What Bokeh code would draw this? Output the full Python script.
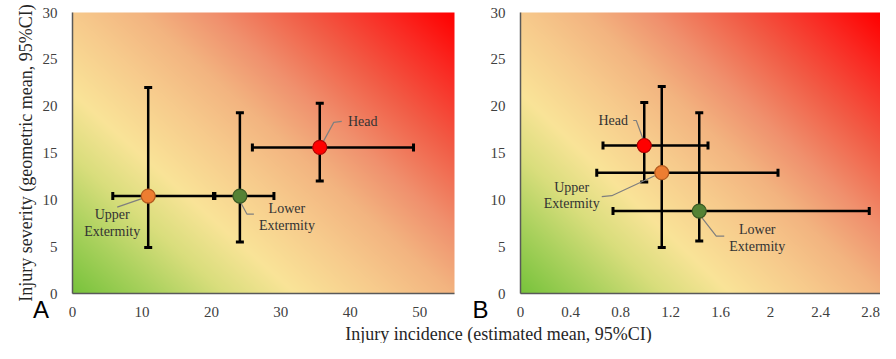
import numpy as np
from bokeh.plotting import figure
from bokeh.models import (Whisker, TeeHead, ColumnDataSource, Range1d, FixedTicker,
                          Label, LinearAxis)
from bokeh.layouts import row, column
from bokeh.embed import file_html
from bokeh.resources import INLINE
from bokeh.core.properties import value

# ---------------- data ----------------
regions = ["Head", "Upper\nExtermity", "Lower\nExtermity"]

# Panel A
a_inc = [35.6, 10.9, 24.1]
a_inc_lo = [25.9, 5.8, 20.5]
a_inc_hi = [49.1, 20.3, 29.0]
a_sev = [15.6, 10.4, 10.4]
a_sev_lo = [12.0, 4.9, 5.5]
a_sev_hi = [20.3, 22.0, 19.3]

# Panel B
b_inc = [0.99, 1.13, 1.43]
b_inc_lo = [0.66, 0.61, 0.74]
b_inc_hi = [1.50, 2.06, 2.79]
b_sev = [15.8, 12.9, 8.8]
b_sev_lo = [11.9, 4.9, 5.6]
b_sev_hi = [20.4, 22.1, 19.3]

y_max = 30
y_ticks = [0, 5, 10, 15, 20, 25, 30]
a_x_max = 55
a_x_ticks = [0, 10, 20, 30, 40, 50]
a_x_tick_labels = ["0", "10", "20", "30", "40", "50"]
b_x_max = 2.88
b_x_ticks = [0, 0.4, 0.8, 1.2, 1.6, 2.0, 2.4, 2.8]
b_x_tick_labels = ["0", "0.4", "0.8", "1.2", "1.6", "2", "2.4", "2.8"]

y_title = "Injury severity (geometric mean, 95%CI)"
x_title = "Injury incidence (estimated mean, 95%CI)"

# ---------------- style / layout (pixels) ----------------
SERIF = "Liberation Serif"
SANS = "Liberation Sans"
fill_colors = ["#ff0000", "#ed7d31", "#548235"]
edge_colors = ["#b00000", "#b35a1e", "#3a5a24"]

TOP_PX = 12       # space above the plotting area
PLOT_H = 281      # plotting area height
BOTTOM_PX = 30    # space below the plotting area (ticks + panel letter)
H12 = TOP_PX + PLOT_H + BOTTOM_PX
H3 = 343 - H12

STOPS = [
    (0.00, (120, 195, 60)),
    (0.12, (172, 210, 95)),
    (0.22, (218, 222, 125)),
    (0.32, (250, 228, 152)),
    (0.45, (247, 202, 140)),
    (0.55, (243, 180, 128)),
    (0.65, (240, 145, 110)),
    (0.78, (242, 92, 70)),
    (0.90, (250, 42, 35)),
    (1.00, (255, 0, 0)),
]


def gradient(nx, ny):
    a = np.linspace(0, 1, nx)[None, :]
    b = np.linspace(0, 1, ny)[:, None]
    s = 0.55 * a + 0.45 * b
    pos = [st[0] for st in STOPS]
    img = np.empty((ny, nx), dtype=np.uint32)
    view = img.view(dtype=np.uint8).reshape((ny, nx, 4))
    for c in range(3):
        view[..., c] = np.interp(s, pos, [st[1][c] for st in STOPS]).astype(np.uint8)
    view[..., 3] = 255
    return img


def style_axis(ax):
    ax.axis_line_color = "#595959"
    ax.axis_line_width = 1.5
    ax.major_tick_line_color = None
    ax.minor_tick_line_color = None
    ax.major_label_text_font = SERIF
    ax.major_label_text_font_size = "15px"
    ax.major_label_text_color = "#404040"


def make_panel(inc, lo, hi, sev, slo, shi, x_max, x_ticks, x_labels, data_w,
               left_px, right_px, offsets, leaders, letter, letter_px, ylabel=None):
    kx = x_max / data_w
    ky = y_max / PLOT_H
    p = figure(width=left_px + data_w + right_px, height=H12,
               x_range=Range1d(-left_px * kx, x_max + right_px * kx),
               y_range=Range1d(-BOTTOM_PX * ky, y_max + TOP_PX * ky),
               x_axis_location=None, y_axis_location=None,
               output_backend="svg", toolbar_location=None, min_border=0,
               outline_line_color=None, background_fill_color="white")
    p.grid.visible = False
    r = p.image_rgba(image=[gradient(data_w, PLOT_H)], x=0, y=0, dw=x_max, dh=y_max)
    r.level = "image"

    src = ColumnDataSource(dict(x=inc, lo=lo, hi=hi, y=sev, ylo=slo, yhi=shi,
                                fill=fill_colors, edge=edge_colors))
    for dim, base, lower, upper in [("height", "x", "ylo", "yhi"), ("width", "y", "lo", "hi")]:
        w = Whisker(source=src, base=base, lower=lower, upper=upper, dimension=dim,
                    line_color="black", line_width=2.5,
                    upper_head=TeeHead(size=8, line_width=3, line_color="black"),
                    lower_head=TeeHead(size=8, line_width=3, line_color="black"))
        p.add_layout(w)

    # leader lines
    xs, ys = [], []
    for i, pts in enumerate(leaders):
        xs.append([inc[i] + dx * kx for dx, dy in pts])
        ys.append([sev[i] - dy * ky for dx, dy in pts])
    p.multi_line(xs=xs, ys=ys, line_color="#7f7f7f", line_width=1.2)

    p.scatter(x="x", y="y", source=src, size=14, fill_color="fill",
              line_color="edge", line_width=1.2)

    tx = [inc[i] + offsets[i][0] * kx for i in range(3)]
    ty = [sev[i] - offsets[i][1] * ky for i in range(3)]
    p.text(x=tx, y=ty, text=regions, text_align="center", text_baseline="middle",
           text_font=value(SERIF), text_font_size="14px", text_color="#333333",
           text_line_height=1.1)

    xaxis = LinearAxis(fixed_location=0, bounds=(0, x_max),
                       ticker=FixedTicker(ticks=x_ticks),
                       major_label_overrides={t: l for t, l in zip(x_ticks, x_labels)},
                       major_label_standoff=7)
    yaxis = LinearAxis(fixed_location=0, bounds=(0, y_max),
                       ticker=FixedTicker(ticks=y_ticks), major_label_standoff=9)
    style_axis(xaxis)
    style_axis(yaxis)
    if ylabel:
        yaxis.axis_label = ylabel
        yaxis.axis_label_text_font = SERIF
        yaxis.axis_label_text_font_size = "18px"
        yaxis.axis_label_text_font_style = "normal"
        yaxis.axis_label_text_color = "#262626"
        yaxis.axis_label_standoff = 4
    p.add_layout(xaxis, "below")
    p.add_layout(yaxis, "left")

    p.add_layout(Label(x=letter_px, y=BOTTOM_PX - 16, x_units="screen", y_units="screen",
                       text=letter, text_align="center", text_baseline="middle",
                       text_font=SANS, text_font_size="24px", text_color="black"))
    return p


a_offsets = [(43, -26), (-36, 27), (47, 21)]
a_leaders = [[(2, -3), (14, -25), (22, -26)],
             [(-31, 11), (-2, 1)],
             [(0, 5), (7, 18), (14, 18)]]
b_offsets = [(-31, -25), (-90, 23), (58, 27)]
b_leaders = [[(-11, -25), (-8, -25), (-1, -6)],
             [(-60, 24), (-50, 23), (-7, 3)],
             [(3, 7), (17, 25), (25, 25)]]

p1 = make_panel(a_inc, a_inc_lo, a_inc_hi, a_sev, a_sev_lo, a_sev_hi, a_x_max,
                a_x_ticks, a_x_tick_labels, 382, 72, 14, a_offsets, a_leaders,
                "A", 40.5, y_title)
p2 = make_panel(b_inc, b_inc_lo, b_inc_hi, b_sev, b_sev_lo, b_sev_hi, b_x_max,
                b_x_ticks, b_x_tick_labels, 360, 52, 0, b_offsets, b_leaders,
                "B", 12)

# bottom strip: shared x-axis title (coordinates are pixels)
p3 = figure(width=880, height=H3, x_range=Range1d(0, 880), y_range=Range1d(0, H3),
            output_backend="svg", toolbar_location=None, min_border=0,
            outline_line_color=None)
p3.axis.visible = False
p3.grid.visible = False
p3.add_layout(Label(x=498, y=H3 / 2, text=x_title, text_align="center",
                    text_baseline="middle", text_font=SERIF,
                    text_font_size="18px", text_color="#262626"))

layout = column(row(p1, p2), p3)
open("out.html", "w").write(file_html(layout, INLINE))
